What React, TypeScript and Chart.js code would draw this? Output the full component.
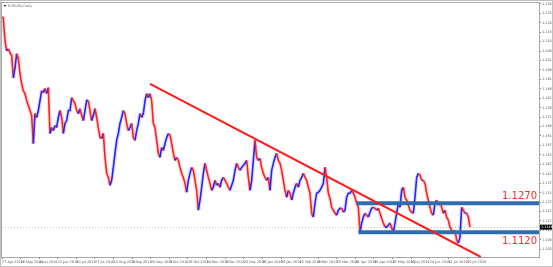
import { useEffect, useRef } from "react";
import { Chart, registerables } from "chart.js";

Chart.register(...registerables);

const chartTitle = "EURUSD,Daily";

// closing prices, one per sampled period (period index starts at 1)
const closes = [
  1.2237, 1.2232, 1.2113, 1.2061, 1.2071, 1.2051, 1.2035, 1.1921, 1.1973, 1.2046,
  1.2020, 1.1942, 1.1890, 1.1854, 1.1839, 1.1803, 1.1777, 1.1751, 1.1725, 1.1580,
  1.1735, 1.1715, 1.1751, 1.1803, 1.1854, 1.1844, 1.1865, 1.1839, 1.1870, 1.1632,
  1.1663, 1.1647, 1.1673, 1.1663, 1.1715, 1.1751, 1.1715, 1.1632, 1.1684, 1.1699,
  1.1751, 1.1751, 1.1818, 1.1803, 1.1787, 1.1751, 1.1735, 1.1761, 1.1725, 1.1699,
  1.1751, 1.1803, 1.1803, 1.1751, 1.1699, 1.1725, 1.1761, 1.1715, 1.1663, 1.1611,
  1.1606, 1.1632, 1.1508, 1.1425, 1.1404, 1.1363, 1.1389, 1.1456, 1.1529, 1.1596,
  1.1632, 1.1684, 1.1715, 1.1751, 1.1735, 1.1684, 1.1647, 1.1663, 1.1684, 1.1611,
  1.1596, 1.1647, 1.1684, 1.1735, 1.1715, 1.1735, 1.1803, 1.1839, 1.1818, 1.1839,
  1.1803, 1.1684, 1.1663, 1.1596, 1.1529, 1.1508, 1.1560, 1.1544, 1.1580, 1.1611,
  1.1632, 1.1622, 1.1580, 1.1529, 1.1492, 1.1508, 1.1492, 1.1456, 1.1425, 1.1404,
  1.1373, 1.1327, 1.1389, 1.1425, 1.1456, 1.1441, 1.1389, 1.1337, 1.1234, 1.1286,
  1.1353, 1.1425, 1.1477, 1.1441, 1.1404, 1.1373, 1.1337, 1.1353, 1.1389, 1.1363,
  1.1373, 1.1353, 1.1389, 1.1404, 1.1389, 1.1373, 1.1353, 1.1337, 1.1363, 1.1389,
  1.1441, 1.1477, 1.1456, 1.1441, 1.1456, 1.1466, 1.1477, 1.1492, 1.1404,
  1.1337, 1.1389, 1.1492, 1.1596, 1.1508, 1.1492, 1.1503, 1.1456, 1.1425, 1.1404, 1.1389,
  1.1404, 1.1337, 1.1441, 1.1477, 1.1508, 1.1529, 1.1492, 1.1477, 1.1441, 1.1389,
  1.1337, 1.1301, 1.1337, 1.1322, 1.1286, 1.1322, 1.1353, 1.1373, 1.1353, 1.1389,
  1.1404, 1.1425, 1.1404, 1.1389, 1.1353, 1.1322, 1.1218, 1.1198, 1.1270, 1.1322,
  1.1327, 1.1337, 1.1353, 1.1373, 1.1456, 1.1404, 1.1322, 1.1296, 1.1249, 1.1234,
  1.1218, 1.1208, 1.1234, 1.1244, 1.1244, 1.1223, 1.1234, 1.1301, 1.1322, 1.1322,
  1.1337, 1.1322, 1.1301, 1.1270, 1.1249, 1.1120, 1.1167, 1.1198, 1.1218, 1.1208,
  1.1198, 1.1223, 1.1244, 1.1249, 1.1244, 1.1234, 1.1244, 1.1218, 1.1192, 1.1167,
  1.1146, 1.1146, 1.1156, 1.1167, 1.1141, 1.1120, 1.1167, 1.1218, 1.1270, 1.1249,
  1.1337, 1.1353, 1.1301, 1.1286, 1.1260, 1.1234, 1.1223, 1.1218, 1.1301, 1.1404,
  1.1425, 1.1415, 1.1389, 1.1389, 1.1373, 1.1322, 1.1286, 1.1249, 1.1218, 1.1208,
  1.1270, 1.1286, 1.1260, 1.1275, 1.1249, 1.1218, 1.1234, 1.1198, 1.1182, 1.1146,
  1.1130, 1.1115, 1.1130, 1.1079, 1.1063, 1.1094, 1.1249, 1.1234, 1.1218, 1.1218,
  1.1198, 1.1146,
];

const dateLabels = [
  "27 Apr 2018", "16 May 2018", "4 Jun 2018", "21 Jun 2018", "10 Jul 2018",
  "27 Jul 2018", "15 Aug 2018", "3 Sep 2018", "20 Sep 2018", "9 Oct 2018",
  "26 Oct 2018", "14 Nov 2018", "3 Dec 2018", "20 Dec 2018", "10 Jan 2019",
  "29 Jan 2019", "15 Feb 2019", "6 Mar 2019", "25 Mar 2019", "11 Apr 2019",
  "30 Apr 2019", "17 May 2019", "5 Jun 2019", "24 Jun 2019", "11 Jul 2019",
  "30 Jul 2019",
];
const labelEvery = 11.16; // periods between date labels

const priceTicks = [
  1.2305, 1.2256, 1.2207, 1.2158, 1.2109, 1.2060, 1.2011, 1.1962, 1.1913,
  1.1864, 1.1815, 1.1766, 1.1717, 1.1668, 1.1619, 1.1570, 1.1521, 1.1472,
  1.1423, 1.1374, 1.1325, 1.1276, 1.1227, 1.1178, 1.1129, 1.1080, 1.1031,
];

// trendline from Sep 2018 high
const trendStart = { period: 90, price: 1.189 };
const trendEnd = { period: 288.5, price: 1.0991 };

// horizontal levels
const resistanceLevel = 1.127;
const resistanceFrom = 214;
const supportLevel = 1.112;
const supportFrom = 215;

const xMin = 1.2;
const xMax = 323.4;
const yMin = 1.0991;
const yMax = 1.2309;

const UP = "#2323ff";
const DOWN = "#ff1f1f";
const UP_LIGHT = "rgba(110,110,255,0.22)";
const DOWN_LIGHT = "rgba(255,90,90,0.22)";
const FONT = "'DejaVu Sans', sans-serif";

export default function App() {
  const ref = useRef<HTMLCanvasElement | null>(null);

  useEffect(() => {
    const canvas = ref.current;
    if (!canvas) return;
    const pts = closes.map((c, i) => ({ x: i + 1, y: c }));
    const last = closes[closes.length - 1];

    const overlay = {
      id: "overlay",
      beforeDatasetsDraw(chart: any) {
        const { ctx, chartArea } = chart;
        const ys = chart.scales.y;
        ctx.save();
        ctx.strokeStyle = "#c8c8c8";
        ctx.lineWidth = 1;
        ctx.setLineDash([1, 2]);
        const py = Math.round(ys.getPixelForValue(last)) + 0.5;
        ctx.beginPath();
        ctx.moveTo(chartArea.left, py);
        ctx.lineTo(chartArea.right, py);
        ctx.stroke();
        ctx.restore();
      },
      afterDraw(chart: any) {
        const { ctx, chartArea } = chart;
        const ys = chart.scales.y;
        ctx.save();
        ctx.strokeStyle = "#a8a8a8";
        ctx.lineWidth = 1;
        ctx.strokeRect(chartArea.left - 0.5, chartArea.top - 0.5, chartArea.right - chartArea.left + 1, chartArea.bottom - chartArea.top + 1);
        ctx.strokeStyle = "#c0c0c0";
        ctx.strokeRect(0.5, 0.5, chart.width - 1, chart.height - 1);
        // title
        ctx.fillStyle = "#333";
        ctx.beginPath();
        ctx.moveTo(3.5, 5);
        ctx.lineTo(6.5, 5);
        ctx.lineTo(5, 7);
        ctx.closePath();
        ctx.fill();
        ctx.font = `3.4px ${FONT}`;
        ctx.fillStyle = "#666";
        ctx.textBaseline = "middle";
        ctx.textAlign = "left";
        ctx.fillText(chartTitle, 8, 6);
        // level labels
        ctx.font = `10px ${FONT}`;
        ctx.fillStyle = "#ff2a2a";
        ctx.textAlign = "right";
        ctx.textBaseline = "middle";
        ctx.fillText(resistanceLevel.toFixed(4), chartArea.right - 2, ys.getPixelForValue(resistanceLevel) - 7);
        ctx.fillText(supportLevel.toFixed(4), chartArea.right - 2, ys.getPixelForValue(supportLevel) + 9);
        // current price tag
        const py = ys.getPixelForValue(last);
        ctx.fillStyle = "#000";
        ctx.fillRect(chartArea.right + 1, py - 2.5, 12, 5);
        ctx.fillStyle = "#fff";
        ctx.font = `3.4px ${FONT}`;
        ctx.textAlign = "left";
        ctx.fillText(last.toFixed(4), chartArea.right + 2, py + 0.2);
        ctx.restore();
      },
    };

    const chart = new Chart(canvas, {
      type: "line",
      data: {
        datasets: [
          {
            label: "wicks",
            data: pts,
            borderWidth: 4,
            pointRadius: 0,
            borderColor: DOWN_LIGHT,
            segment: {
              borderColor: (c: any) => (c.p1.parsed.y >= c.p0.parsed.y ? UP_LIGHT : DOWN_LIGHT),
            },
            order: 5,
          },
          {
            label: "EURUSD",
            data: pts,
            borderWidth: 1.6,
            pointRadius: 0,
            borderColor: DOWN,
            segment: {
              borderColor: (c: any) => (c.p1.parsed.y >= c.p0.parsed.y ? UP : DOWN),
            },
            order: 4,
          },
          {
            label: "resistance",
            data: [
              { x: resistanceFrom, y: resistanceLevel },
              { x: xMax, y: resistanceLevel },
            ],
            borderColor: "#2f6ead",
            borderWidth: 4,
            pointRadius: 0,
            order: 3,
          },
          {
            label: "support",
            data: [
              { x: supportFrom, y: supportLevel },
              { x: xMax, y: supportLevel },
            ],
            borderColor: "#2f6ead",
            borderWidth: 4,
            pointRadius: 0,
            order: 2,
          },
          {
            label: "trend",
            data: [
              { x: trendStart.period, y: trendStart.price },
              { x: trendEnd.period, y: trendEnd.price },
            ],
            borderColor: "#ff1a1a",
            borderWidth: 2,
            pointRadius: 0,
            order: 1,
          },
        ],
      },
      options: {
        animation: false,
        responsive: false,
        maintainAspectRatio: false,
        layout: { padding: { left: 2, top: 2, right: 0, bottom: 0 } },
        plugins: { legend: { display: false }, tooltip: { enabled: false }, title: { display: false } },
        scales: {
          x: {
            type: "linear",
            min: xMin,
            max: xMax,
            grid: { drawOnChartArea: false, drawTicks: true, tickLength: 2, color: "#888" },
            border: { display: false },
            afterBuildTicks: (scale: any) => {
              scale.ticks = dateLabels.map((_, i) => ({ value: xMin + i * labelEvery }));
            },
            afterFit: (scale: any) => {
              scale.height = 10;
            },
            ticks: {
              autoSkip: false,
              maxRotation: 0,
              align: "start",
              padding: 1,
              color: "#555",
              font: { size: 3.4, family: FONT },
              callback: (_v: any, i: number) => dateLabels[i] ?? "",
            },
          },
          y: {
            type: "linear",
            position: "right",
            min: yMin,
            max: yMax,
            grid: { drawOnChartArea: false, drawTicks: true, tickLength: 2, color: "#888" },
            border: { display: false },
            afterBuildTicks: (scale: any) => {
              scale.ticks = priceTicks.map((v) => ({ value: v }));
            },
            afterFit: (scale: any) => {
              scale.width = 14;
            },
            ticks: {
              padding: 1,
              color: "#555",
              font: { size: 3.4, family: FONT },
              callback: (v: any) => Number(v).toFixed(4),
            },
          },
        },
      },
      plugins: [overlay],
    } as any);

    return () => chart.destroy();
  }, []);

  return (
    <div style={{ position: "fixed", left: 0, top: 0, width: 553, height: 267, background: "#fff" }}>
      <canvas ref={ref} width={553} height={267} style={{ display: "block", width: 553, height: 267 }} />
    </div>
  );
}
